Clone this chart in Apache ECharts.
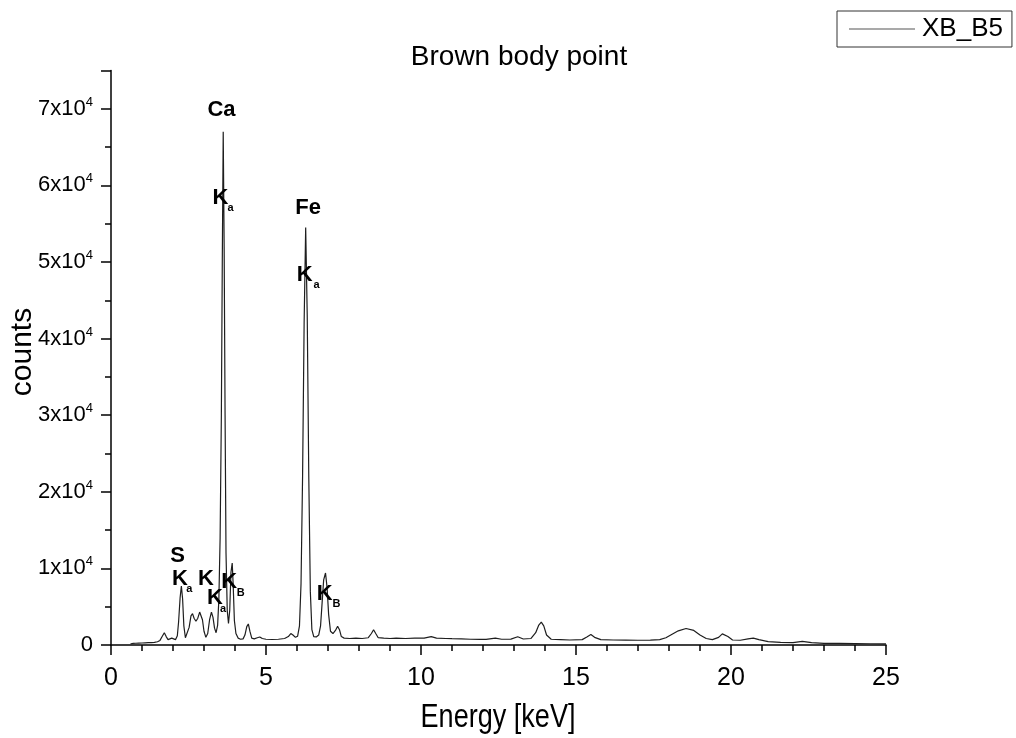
<!DOCTYPE html>
<html>
<head>
<meta charset="utf-8">
<title>Brown body point</title>
<script src="https://cdn.jsdelivr.net/npm/echarts@6/dist/echarts.min.js"></script>
<style>
  html, body { margin: 0; padding: 0; background: #fff; }
  #chart { width: 1016px; height: 738px; }
</style>
</head>
<body>
<div id="chart"></div>
<script>
// XRF spectrum of sample XB_B5: energy (keV) and detector counts
const energy = [
  0.63, 0.7, 0.8, 0.9, 1.0, 1.1, 1.2, 1.3, 1.4, 1.5, 1.58, 1.65, 1.72, 1.78, 1.84, 1.9, 1.96, 2.02, 2.08,
  2.14, 2.18, 2.23, 2.27, 2.31, 2.35, 2.40, 2.46, 2.52, 2.58, 2.63, 2.68, 2.74, 2.80, 2.86, 2.90, 2.95,
  3.00, 3.06, 3.12, 3.18, 3.24, 3.29, 3.34, 3.39, 3.44, 3.48, 3.52, 3.56, 3.59, 3.62, 3.65, 3.68, 3.71,
  3.75, 3.79, 3.83, 3.87, 3.91, 3.94, 3.98, 4.03, 4.10, 4.18, 4.26, 4.32, 4.38, 4.43, 4.48, 4.54, 4.62,
  4.72, 4.80, 4.88, 5.0, 5.2, 5.4, 5.6, 5.72, 5.80, 5.87, 5.95, 6.02, 6.08, 6.13, 6.18, 6.23, 6.28, 6.33,
  6.38, 6.43, 6.48, 6.54, 6.62, 6.70, 6.76, 6.81, 6.86, 6.92, 6.97, 7.02, 7.08, 7.16, 7.24, 7.31, 7.37,
  7.43, 7.52, 7.7, 7.9, 8.1, 8.3, 8.40, 8.47, 8.54, 8.62, 8.8, 9.0, 9.2, 9.5, 9.8, 10.1, 10.33, 10.5,
  10.8, 11.0, 11.3, 11.6, 11.9, 12.1, 12.4, 12.6, 12.9, 13.12, 13.3, 13.55, 13.7, 13.8, 13.88, 13.96,
  14.05, 14.2, 14.5, 14.8, 15.2, 15.35, 15.48, 15.6, 15.8, 16.2, 16.6, 17.0, 17.4, 17.7, 17.9, 18.1,
  18.3, 18.55, 18.8, 19.0, 19.2, 19.4, 19.6, 19.72, 19.78, 19.9, 20.05, 20.3, 20.55, 20.72, 20.9, 21.2,
  21.6, 22.0, 22.3, 22.6, 23.0, 23.5, 24.0, 24.5, 25.0
];
const counts = [
  150, 200, 230, 250, 260, 280, 300, 320, 350, 420, 600, 1100, 1600, 1100, 700, 620, 900, 800, 700,
  1200, 3000, 6200, 7700, 6000, 2500, 950, 1000, 2300, 3800, 4100, 3500, 3100, 3500, 4300, 4400, 3300,
  1800, 1000, 1500, 3300, 4300, 3600, 2200, 1600, 2600, 6000, 14000, 30000, 50000, 67000, 52000, 30000, 12000,
  4500, 2800, 4500, 9500, 10700, 8000, 3200, 1500, 900, 750, 800, 1300, 2400, 2750, 1800, 900, 800,
  950, 1050, 850, 750, 720, 750, 850, 1100, 1500, 1300, 1000, 1150, 2500, 8000, 22000, 42000, 54500, 43000,
  22000, 7000, 2000, 1100, 1050, 1300, 2500, 5500, 8500, 9400, 7500, 4000, 1800, 1500, 1900, 2450, 2000,
  1100, 900, 850, 900, 850, 950, 1500, 2000, 1500, 950, 900, 850, 900, 850, 900, 900, 1100, 900,
  850, 820, 800, 750, 730, 740, 890, 750, 760, 1070, 780, 850, 1600, 2600, 2980, 2500,
  1300, 750, 700, 650, 700, 1050, 1370, 1000, 700, 650, 640, 620, 640, 700, 950, 1400,
  1850, 2150, 1900, 1300, 850, 700, 1000, 1450, 1540, 1100, 650, 620, 800, 890, 700, 450,
  350, 320, 470, 300, 220, 200, 180, 160, 150
];

// Peak annotations: element symbols, line names and their subscripts
const annoText   = ['Ca', 'K', 'a', 'Fe', 'K', 'a', 'S', 'K', 'a', 'K', 'K', 'a', 'K', 'B', 'K', 'B'];
const annoEnergy = [3.566, 3.534, 3.856, 6.356, 6.25, 6.627, 2.149, 2.223, 2.523, 3.061, 3.351, 3.618, 3.811, 4.188, 6.894, 7.271];
const annoCounts = [69910, 58380, 57080, 57080, 48370, 47060, 11680, 8640, 7250, 8640, 6160, 4730, 8200, 6810, 6720, 5420];
const annoIsSub  = [false, false, true, false, false, true, false, false, true, false, false, true, false, true, false, true];

const seriesName = 'XB_B5';
const titleText = 'Brown body point';
const xName = 'Energy [keV]';
const yName = 'counts';

const FONT = '"Liberation Sans", Arial, sans-serif';

const spectrum = energy.map((e, i) => [e, counts[i]]);
const annotations = annoText.map((t, i) => ({
  coord: [annoEnergy[i], annoCounts[i]],
  value: t,
  label: {
    show: true,
    position: 'inside',
    formatter: t,
    color: '#000',
    fontFamily: FONT,
    fontWeight: 'bold',
    fontSize: annoIsSub[i] ? 11 : 22
  }
}));

const chart = echarts.init(document.getElementById('chart'), null, { renderer: 'canvas' });

chart.setOption({
  animation: false,
  backgroundColor: '#fff',
  grid: { left: 111, right: 130, top: 70.5, bottom: 93, outerBoundsMode: 'none', containLabel: false },
  legend: {
    data: [seriesName],
    left: 837,
    top: 11,
    orient: 'vertical',
    padding: [5, 9, 5, 12],
    borderColor: '#333',
    borderWidth: 1,
    icon: 'rect',
    itemWidth: 66,
    itemHeight: 1,
    itemGap: 0,
    itemStyle: { color: '#555' },
    textStyle: { fontFamily: FONT, fontSize: 26, color: '#000', padding: [0, 0, 0, 2] }
  },
  graphic: [
    {
      type: 'text',
      x: 519, y: 57,
      style: {
        text: titleText, textAlign: 'center', textVerticalAlign: 'middle',
        fontFamily: FONT, fontSize: 28, fill: '#000'
      }
    },
    {
      // y-axis title, reads bottom to top
      type: 'text',
      rotation: Math.PI / 2,
      x: 23, y: 352,
      style: {
        text: yName, textAlign: 'center', textVerticalAlign: 'middle',
        fontFamily: FONT, fontSize: 30, fill: '#000'
      }
    },
    {
      // x-axis title, set in a condensed face
      type: 'text',
      x: 498, y: 718,
      scaleX: 0.82,
      style: {
        text: xName, textAlign: 'center', textVerticalAlign: 'middle',
        fontFamily: FONT, fontSize: 33, fill: '#000'
      }
    }
  ],
  xAxis: {
    type: 'value',
    min: 0,
    max: 25,
    interval: 5,
    axisLine: { show: true, onZero: false, lineStyle: { color: '#000', width: 1.5 } },
    axisTick: { show: true, inside: false, length: 10, lineStyle: { color: '#000', width: 1.5 } },
    minorTick: { show: true, splitNumber: 5, length: 6, lineStyle: { color: '#000', width: 1.5 } },
    splitLine: { show: false },
    axisLabel: { margin: 21, fontFamily: FONT, fontSize: 25, color: '#000' }
  },
  yAxis: {
    type: 'value',
    min: 0,
    max: 75000,
    interval: 10000,
    axisLine: { show: true, onZero: false, lineStyle: { color: '#000', width: 1.5 } },
    axisTick: { show: true, inside: false, length: 10, lineStyle: { color: '#000', width: 1.5 } },
    minorTick: { show: true, splitNumber: 2, length: 6, lineStyle: { color: '#000', width: 1.5 } },
    splitLine: { show: false },
    axisLabel: {
      margin: 18,
      showMaxLabel: false,
      color: '#000',
      fontFamily: FONT,
      formatter: v => v === 0 ? '{m|0}' : '{m|' + (v / 10000) + 'x10}{e|4}',
      rich: {
        m: { fontFamily: FONT, fontSize: 22, color: '#000', lineHeight: 26 },
        e: { fontFamily: FONT, fontSize: 13, color: '#000', verticalAlign: 'top', lineHeight: 26 }
      }
    }
  },
  series: [{
    name: seriesName,
    type: 'line',
    data: spectrum,
    showSymbol: false,
    symbol: 'none',
    lineStyle: { color: '#1e1e1e', width: 1.2 },
    itemStyle: { color: '#1e1e1e' },
    markPoint: {
      symbol: 'circle',
      symbolSize: 1,
      itemStyle: { color: 'rgba(0,0,0,0)' },
      data: annotations
    }
  }]
});
</script>
</body>
</html>
